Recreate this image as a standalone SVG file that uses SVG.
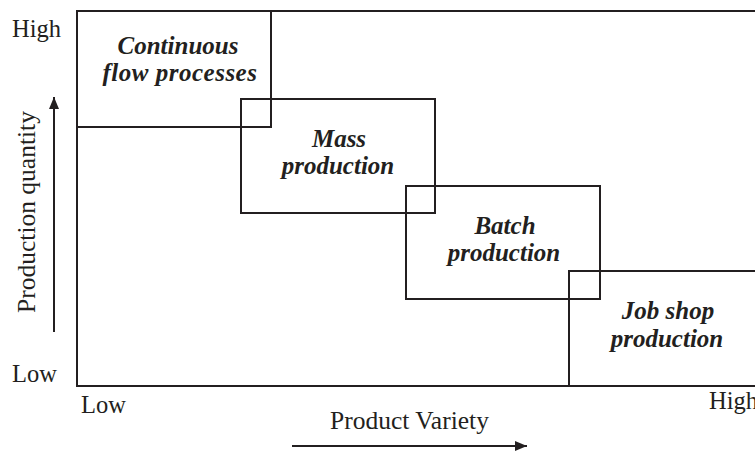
<svg xmlns="http://www.w3.org/2000/svg" width="755" height="451" viewBox="0 0 755 451">
<style>
.box{fill:none;stroke:#231f20;stroke-width:2}
.ax{stroke:#231f20;stroke-width:2;fill:none}
.lbl{font-family:"Liberation Serif","Times New Roman",serif;font-size:25px;font-weight:bold;font-style:italic;fill:#231f20;text-anchor:middle}
.t{font-family:"Liberation Serif","Times New Roman",serif;font-size:24.5px;fill:#231f20}
.tl{font-family:"Liberation Serif","Times New Roman",serif;font-size:25.5px;fill:#231f20}
</style>
<defs>
<marker id="ah" markerWidth="12" markerHeight="10" refX="12" refY="5" orient="auto" markerUnits="userSpaceOnUse">
<path d="M0,0 L12,5 L0,10 Z" fill="#231f20"/>
</marker>
</defs>
<rect x="0" y="0" width="755" height="451" fill="#fff"/>
<g id="frame">
<rect class="box" x="77" y="11" width="720" height="375"/>
</g>
<g id="continuous">
<rect class="box" x="77" y="11" width="194" height="116"/>
<text class="lbl" x="178" y="54">Continuous</text>
<text class="lbl" x="180" y="81" letter-spacing="0.5">flow processes</text>
</g>
<g id="mass">
<rect class="box" x="241" y="99" width="194" height="114"/>
<text class="lbl" x="339" y="147">Mass</text>
<text class="lbl" x="338" y="174">production</text>
</g>
<g id="batch">
<rect class="box" x="406" y="186" width="194" height="113"/>
<text class="lbl" x="505" y="234">Batch</text>
<text class="lbl" x="504" y="261">production</text>
</g>
<g id="jobshop">
<rect class="box" x="569" y="271" width="220" height="115"/>
<text class="lbl" x="668" y="319">Job shop</text>
<text class="lbl" x="667" y="347">production</text>
</g>
<g id="connectors">
<line class="ax" x1="54" y1="332" x2="54" y2="97" marker-end="url(#ah)"/>
<line class="ax" x1="292" y1="446" x2="527" y2="446" marker-end="url(#ah)"/>
</g>
<g id="labels">
<text class="t" x="12" y="37">High</text>
<text class="t" x="12" y="382">Low</text>
<text class="t" x="81" y="413">Low</text>
<text class="t" x="709" y="409">High</text>
<text class="tl" x="330" y="429">Product Variety</text>
<text class="tl" transform="translate(35,212) rotate(-90)" text-anchor="middle">Production quantity</text>
</g>
</svg>
